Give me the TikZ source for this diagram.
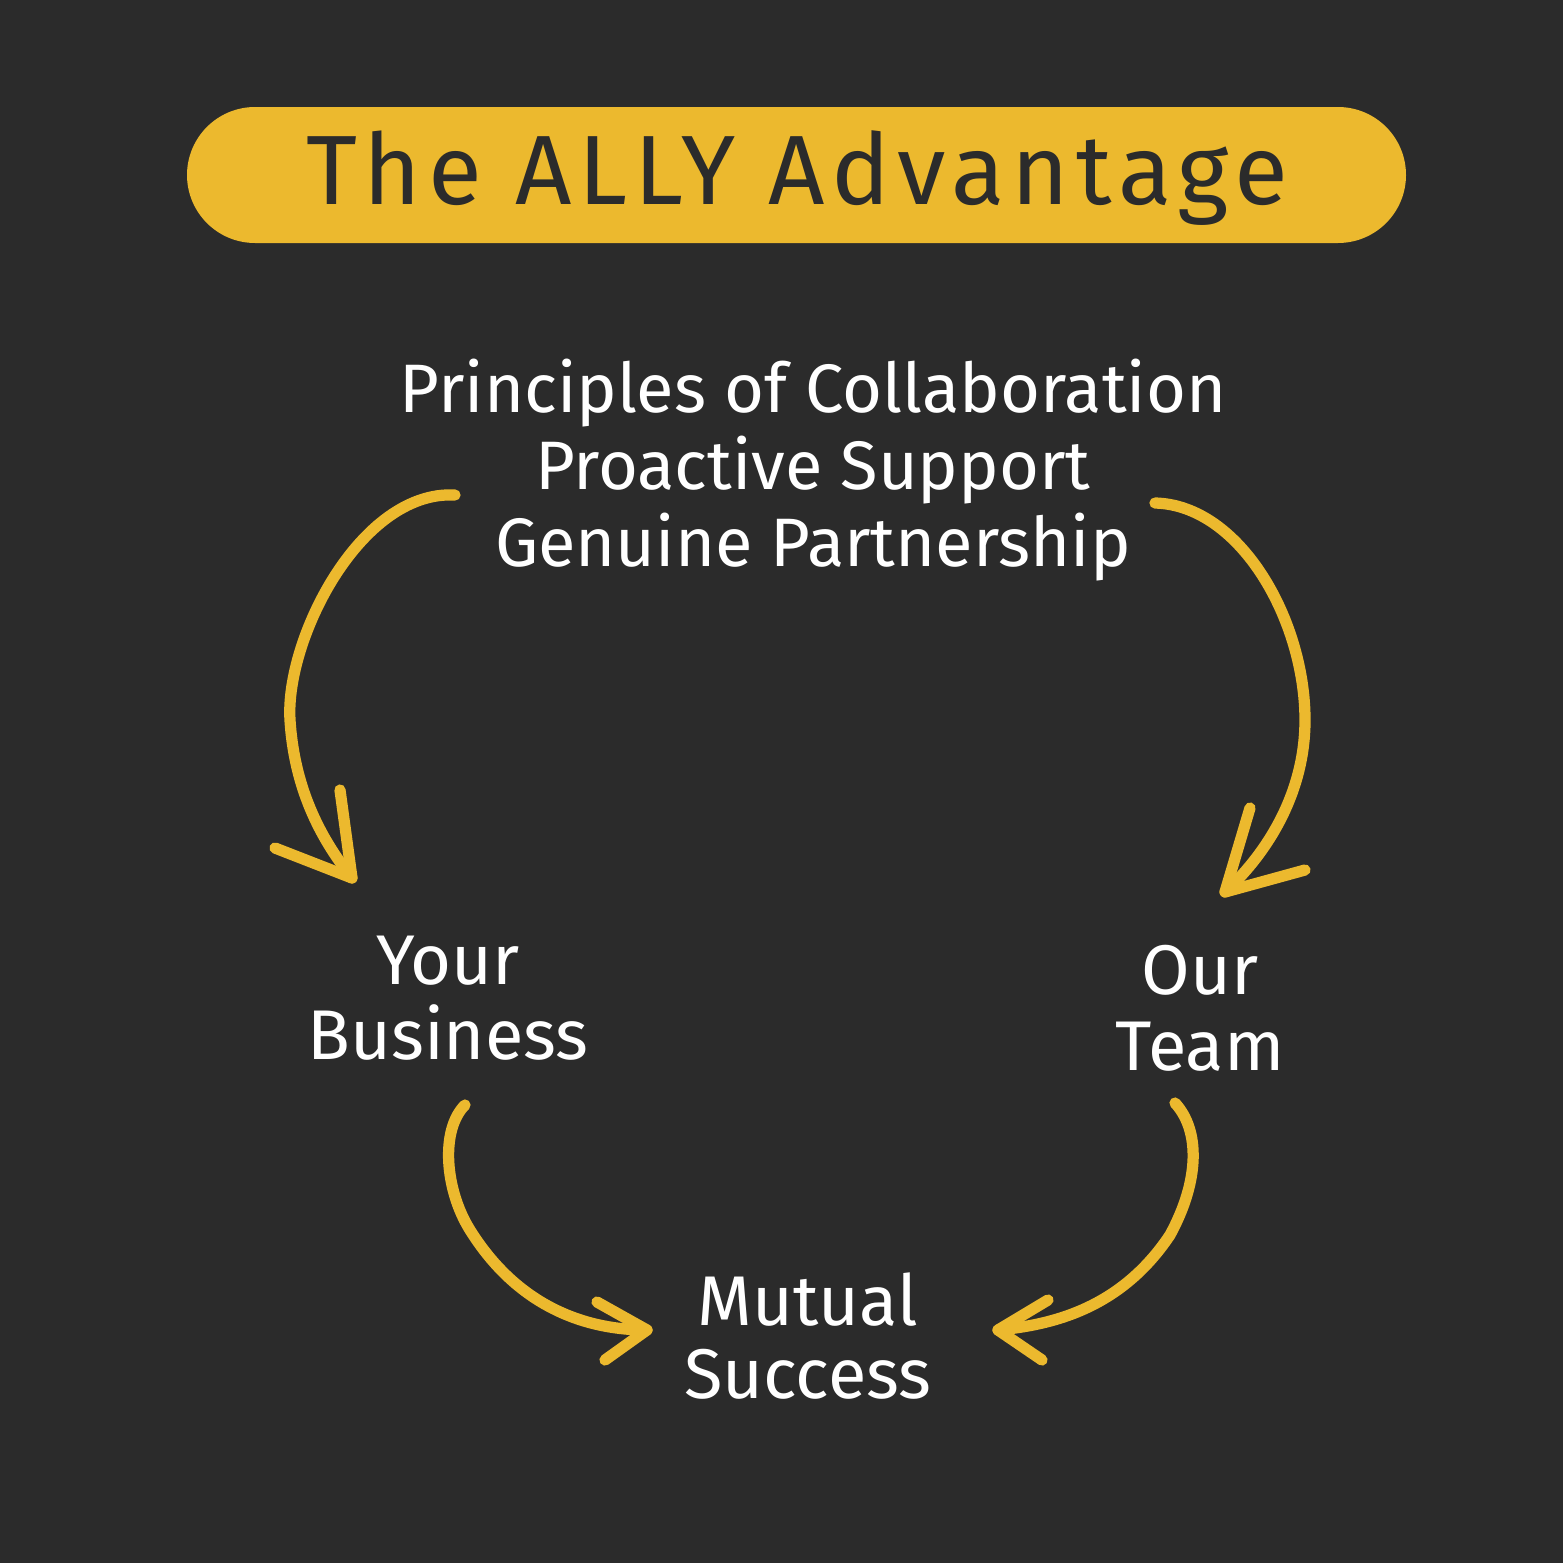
\documentclass[tikz,border=0pt]{standalone}
\usepackage{fontspec}
\setmainfont{Fira Sans}
\newfontfamily\titlefont[LetterSpace=7]{Fira Sans}
\usetikzlibrary{arrows.meta}
\definecolor{bg}{HTML}{2B2B2B}
\definecolor{ylw}{HTML}{ECB92E}
\begin{document}
\begin{tikzpicture}[x=0.01cm,y=-0.01cm,
  arr/.style={draw=ylw,line width=3.2pt,line cap=round,line join=round},
  lbl/.style={text=white,align=center,inner sep=0pt},
]
\fill[bg] (0,0) rectangle (1563,1563);
\useasboundingbox (0,0) rectangle (1563,1563);
% title
\fill[ylw,rounded corners=0.68cm] (187,107) rectangle (1406,243);
\node[text=bg,inner sep=0pt,font=\titlefont\fontsize{28}{34}\selectfont] (title) at (797,178) {The ALLY Advantage};
% texts
\node[lbl,font=\fontsize{19.5}{22}\selectfont] (principles) at (813,470) {Principles of Collaboration\\Proactive Support\\Genuine Partnership};
\node[lbl,font=\fontsize{20}{21.5}\selectfont] (your) at (448,998) {Your\\Business};
\node[lbl,font=\fontsize{20}{21.5}\selectfont] (our) at (1200,1008) {Our\\Team};
\node[lbl,font=\fontsize{20}{21}\selectfont] (mutual) at (808,1336) {Mutual\\Success};
% arrow end points
\coordinate (a1s) at (455,495); \coordinate (a1e) at (352,878);
\coordinate (a2s) at (1155,503); \coordinate (a2e) at (1225,892);
\coordinate (a3s) at (465,1105); \coordinate (a3e) at (647,1330);
\coordinate (a4s) at (1175,1103); \coordinate (a4e) at (998,1330);
% arrow 1
\draw[arr] (a1s) .. controls (360,490) and (285,640) .. (290,720) .. controls (295,800) and (330,850) .. (a1e);
\draw[arr] (a1e) -- ++(-77,-30);
\draw[arr] (a1e) -- ++(-12,-88);
% arrow 2
\draw[arr] (a2s) .. controls (1240,505) and (1305,620) .. (1305,720) .. controls (1305,800) and (1260,860) .. (a2e);
\draw[arr] (a2e) -- ++(25,-84);
\draw[arr] (a2e) -- ++(80,-22);
% arrow 3
\draw[arr] (a3s) .. controls (440,1130) and (445,1190) .. (470,1230) .. controls (520,1310) and (590,1330) .. (a3e);
\draw[arr] (a3e) -- ++(-50,-28);
\draw[arr] (a3e) -- ++(-42,30);
% arrow 4
\draw[arr] (a4s) .. controls (1200,1130) and (1200,1180) .. (1170,1235) .. controls (1120,1310) and (1050,1325) .. (a4e);
\draw[arr] (a4e) -- ++(50,-30);
\draw[arr] (a4e) -- ++(44,30);
\end{tikzpicture}
\end{document}
